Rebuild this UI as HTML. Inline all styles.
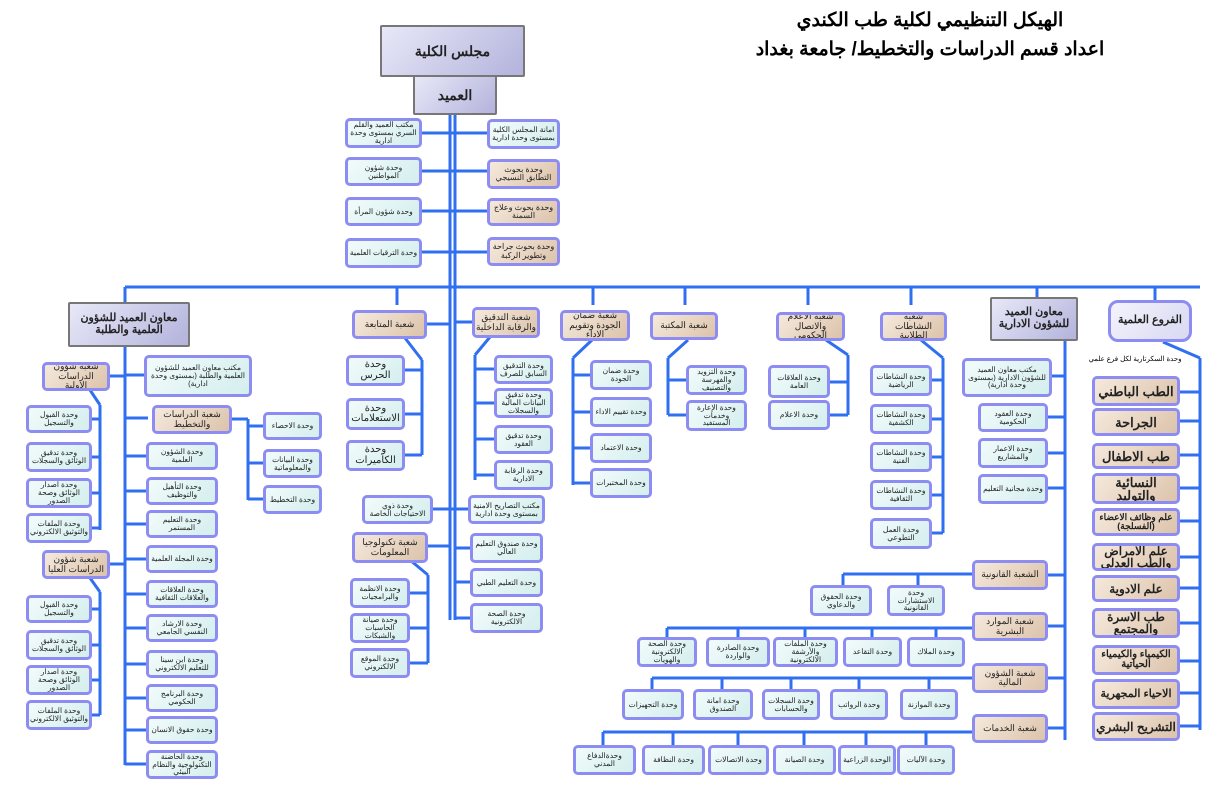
<!DOCTYPE html>
<html><head><meta charset="utf-8"><style>
body{margin:0;width:1210px;height:794px;background:#fff;position:relative;overflow:hidden;font-family:"Liberation Sans","Noto Sans CJK SC",sans-serif}
.b{position:absolute;box-sizing:border-box;border:3px solid #8c8cf2;border-radius:5px;display:flex;align-items:center;justify-content:center;text-align:center;direction:rtl;line-height:1.05;color:#222;overflow:hidden;font-size:8px;padding:1px}
.c{background:linear-gradient(135deg,#f2fbfb,#d4eeee);font-size:7.5px}
.t{background:linear-gradient(135deg,#f5e9dc,#dcc3ab);font-size:9px}
.h{background:linear-gradient(135deg,#e8e8f8,#b3b3dc);border:2px solid #777;border-radius:2px;font-weight:bold;font-size:11px}
.f{background:linear-gradient(135deg,#f4f4fc,#d8d8f2);border-radius:10px;font-weight:bold;font-size:11px}
.big{font-size:14px;font-weight:bold}
#tt{position:absolute;left:740px;top:6px;width:380px;text-align:center;direction:rtl;font-weight:bold;font-size:19px;line-height:29px}
svg{position:absolute;left:0;top:0}
</style></head><body>
<svg id="s" width="1210" height="794"></svg>
<div id="tt">الهيكل التنظيمي لكلية طب الكندي<br>اعداد قسم الدراسات والتخطيط/ جامعة بغداد</div>
<script>
var S=document.getElementById('s'),L='';
function l(a,b,c,d){L+='<line x1="'+a+'" y1="'+b+'" x2="'+c+'" y2="'+d+'" stroke="#2f6ff0" stroke-width="3"/>';}
function B(x,y,x2,y2,t,c,ex){var d=document.createElement('div');d.className='b '+c+(ex?' '+ex:'');d.style.left=x+'px';d.style.top=y+'px';d.style.width=(x2-x)+'px';d.style.height=(y2-y)+'px';d.innerHTML=t;document.body.appendChild(d);return d;}
l(450,115,450,620);l(455,115,455,620);
l(125,287,1200,287);
[125,397,593,685,808,911,1037,1155].forEach(function(x){l(x,287,x,305)});
[133,171,211,252].forEach(function(y){l(420,y,487,y)});
l(125,345,125,765);
[375,418,456,491,524,559,594,628,664,698,730,764].forEach(function(y){l(125,y,148,y)});
l(110,376,125,376);
l(90,390,100,405);l(100,405,100,530);[419,457,493,528].forEach(function(y){l(90,y,100,y)});
l(110,564,125,564);
l(90,578,100,592);l(100,592,100,715);[609,645,680,715].forEach(function(y){l(90,y,100,y)});
l(230,419,248,419);l(248,419,248,500);[426,463,499].forEach(function(y){l(248,y,263,y)});
l(427,324,450,324);l(405,338,422,360);l(422,360,422,455);[370,414,455].forEach(function(y){l(403,y,422,y)});
l(455,322,472,322);l(490,337,475,355);l(475,355,475,480);[369,403,439,475].forEach(function(y){l(475,y,494,y)});
l(433,509,468,509);l(428,546,450,546);[548,582,618].forEach(function(y){l(455,y,470,y)});
l(410,560,428,575);l(428,575,428,663);[593,628,663].forEach(function(y){l(410,y,428,y)});
l(592,340,573,358);l(573,358,573,485);[375,412,448,483].forEach(function(y){l(573,y,590,y)});
l(688,340,668,358);l(668,358,668,415);[380,415].forEach(function(y){l(668,y,686,y)});
l(826,340,848,355);l(848,355,848,415);[382,415].forEach(function(y){l(830,y,848,y)});
l(921,340,943,358);l(943,358,943,533);[380,419,457,495,533].forEach(function(y){l(932,y,943,y)});
l(1065,340,1065,740);[376,417,453,488,575,626,678,728].forEach(function(y){l(1048,y,1065,y)});
l(843,574,972,574);[843,918].forEach(function(x){l(x,574,x,585)});
l(667,628,972,628);[667,738,805,872,936].forEach(function(x){l(x,628,x,638)});
l(652,678,972,678);[652,722,791,859,929].forEach(function(x){l(x,678,x,690)});
l(603,732,972,732);[603,673,738,804,866,926].forEach(function(x){l(x,732,x,745)});
l(1163,342,1200,358);l(1200,358,1200,730);[392,421,455,488,521,557,588,623,661,693,726].forEach(function(y){l(1180,y,1200,y)});
S.innerHTML=L;
B(380,25,525,77,'مجلس الكلية','h','big');
B(413,75,497,115,'العميد','h','big');
B(345,118,422,148,'مكتب العميد والقلم السري بمستوى وحدة ادارية','c');
B(345,157,422,186,'وحدة شؤون المواطنين','c');
B(345,197,422,226,'وحدة شؤون المرأة','c');
B(345,238,422,268,'وحدة الترقيات العلمية','c');
B(487,119,560,149,'امانة المجلس الكلية بمستوى وحدة ادارية','c');
B(487,159,560,189,'وحدة بحوث التطابق النسيجي','t').style.fontSize='8px';
B(487,198,560,226,'وحدة بحوث وعلاج السمنة','t').style.fontSize='8px';
B(487,237,560,266,'وحدة بحوث جراحة وتطوير الركبة','t').style.fontSize='8px';
B(68,302,190,347,'معاون العميد للشؤون العلمية والطلبة','h');
B(352,310,427,339,'شعبة المتابعة','t');
B(472,307,540,338,'شعبة التدقيق والرقابة الداخلية','t');
B(560,310,630,341,'شعبة ضمان الجودة وتقويم الاداء','t');
B(650,312,718,340,'شعبة المكتبة','t');
B(776,312,845,341,'شعبة الاعلام والاتصال الحكومي','t');
B(880,312,947,341,'شعبة النشاطات الطلابية','t');
B(990,297,1078,341,'معاون العميد للشؤون الادارية','h');
B(1108,300,1192,342,'الفروع العلمية','f');
B(144,355,252,397,'مكتب معاون العميد للشؤون العلمية والطلبة (بمستوى وحدة ادارية)','c');
B(152,405,232,434,'شعبة الدراسات والتخطيط','t');
var lc=[[442,470,'وحدة الشؤون العلمية'],[477,505,'وحدة التأهيل والتوظيف'],[510,538,'وحدة التعليم المستمر'],[545,573,'وحدة المجلة العلمية'],[580,608,'وحدة العلاقات والعلاقات الثقافية'],[614,642,'وحدة الارشاد النفسي الجامعي'],[650,678,'وحدة ابن سينا للتعليم الالكتروني'],[684,712,'وحدة البرنامج الحكومي'],[716,744,'وحدة حقوق الانسان'],[750,779,'وحدة الحاضنة التكنولوجية والنظام البيئي']];
lc.forEach(function(a){B(146,a[0],218,a[1],a[2],'c')});
B(42,362,110,391,'شعبة شؤون الدراسات الاولية','t');
B(42,550,110,579,'شعبة شؤون الدراسات العليا','t');
[[405,433,'وحدة القبول والتسجيل'],[442,472,'وحدة تدقيق الوثائق والسجلات'],[478,508,'وحدة اصدار الوثائق وصحة الصدور'],[513,543,'وحدة الملفات والتوثيق الالكتروني'],[595,623,'وحدة القبول والتسجيل'],[630,660,'وحدة تدقيق الوثائق والسجلات'],[665,695,'وحدة اصدار الوثائق وصحة الصدور'],[700,730,'وحدة الملفات والتوثيق الالكتروني']].forEach(function(a){B(26,a[0],92,a[1],a[2],'c')});
[[412,440,'وحدة الاحصاء'],[449,478,'وحدة البيانات والمعلوماتية'],[485,514,'وحدة التخطيط']].forEach(function(a){B(263,a[0],322,a[1],a[2],'c')});
[[355,386,'وحدة الحرس'],[398,430,'وحدة الاستعلامات'],[440,471,'وحدة الكاميرات']].forEach(function(a){B(346,a[0],405,a[1],a[2],'c').style.fontSize='10px'});
[[355,384,'وحدة التدقيق السابق للصرف'],[388,418,'وحدة تدقيق البيانات المالية والسجلات'],[425,454,'وحدة تدقيق العقود'],[460,490,'وحدة الرقابة الادارية']].forEach(function(a){B(494,a[0],553,a[1],a[2],'c')});
B(468,495,545,524,'مكتب التصاريح الامنية بمستوى وحدة ادارية','c');
B(362,495,433,524,'وحدة ذوي الاحتياجات الخاصة','c');
B(352,532,428,563,'شعبة تكنولوجيا المعلومات','t');
[[533,563,'وحدة صندوق التعليم العالي'],[568,597,'وحدة التعليم الطبي'],[603,633,'وحدة الصحة الالكترونية']].forEach(function(a){B(470,a[0],543,a[1],a[2],'c')});
[[578,608,'وحدة الانظمة والبرامجيات'],[613,643,'وحدة صيانة الحاسبات والشبكات'],[648,678,'وحدة الموقع الالكتروني']].forEach(function(a){B(350,a[0],410,a[1],a[2],'c')});
[[360,390,'وحدة ضمان الجودة'],[397,427,'وحدة تقييم الاداء'],[433,463,'وحدة الاعتماد'],[468,498,'وحدة المختبرات']].forEach(function(a){B(590,a[0],652,a[1],a[2],'c')});
[[365,395,'وحدة التزويد والفهرسة والتصنيف'],[400,431,'وحدة الإعارة وخدمات المستفيد']].forEach(function(a){B(686,a[0],747,a[1],a[2],'c')});
[[365,398,'وحدة العلاقات العامة'],[400,430,'وحدة الاعلام']].forEach(function(a){B(768,a[0],830,a[1],a[2],'c')});
[[365,396,'وحدة النشاطات الرياضية'],[404,434,'وحدة النشاطات الكشفية'],[442,472,'وحدة النشاطات الفنية'],[480,510,'وحدة النشاطات الثقافية'],[518,549,'وحدة العمل التطوعي']].forEach(function(a){B(870,a[0],932,a[1],a[2],'c')});
B(962,358,1052,397,'مكتب معاون العميد للشؤون الادارية (بمستوى وحدة ادارية)','c');
B(978,403,1048,432,'وحدة العقود الحكومية','c');
B(978,438,1048,468,'وحدة الاعمار والمشاريع','c');
B(978,474,1048,504,'وحدة مجانية التعليم','c');
B(972,560,1048,590,'الشعبة القانونية','t');
B(972,612,1048,641,'شعبة الموارد البشرية','t');
B(972,663,1048,693,'شعبة الشؤون المالية','t');
B(972,714,1048,743,'شعبة الخدمات','t');
B(810,585,872,616,'وحدة الحقوق والدعاوي','c');B(887,585,945,616,'وحدة الاستشارات القانونية','c');
[[637,697,'وحدة الصحة الالكترونية والهويات'],[706,770,'وحدة الصادرة والواردة'],[773,838,'وحدة الملفات والأرشفة الالكترونية'],[843,902,'وحدة التقاعد'],[907,965,'وحدة الملاك']].forEach(function(a){B(a[0],637,a[1],667,a[2],'c')});
[[622,684,'وحدة التجهيزات'],[693,753,'وحدة امانة الصندوق'],[762,820,'وحدة السجلات والحسابات'],[830,888,'وحدة الرواتب'],[900,958,'وحدة الموازنة']].forEach(function(a){B(a[0],689,a[1],720,a[2],'c')});
[[573,636,'وحدةالدفاع المدني'],[642,705,'وحدة النظافة'],[708,769,'وحدة الاتصالات'],[773,836,'وحدة الصيانة'],[838,896,'الوحدة الزراعية'],[897,955,'وحدة الآليات']].forEach(function(a){B(a[0],745,a[1],775,a[2],'c')});
var d=document.createElement('div');d.style.cssText='position:absolute;left:1085px;top:355px;width:100px;font-size:7px;direction:rtl;text-align:center';d.textContent='وحدة السكرتارية لكل فرع علمي';document.body.appendChild(d);
[[376,406,'الطب الباطني',13],[408,436,'الجراحة',13],[443,469,'طب الاطفال',13],[473,504,'النسائية والتوليد',13],[508,536,'علم وظائف الاعضاء (الفسلجة)',9],[543,571,'علم الامراض والطب العدلي',12],[575,602,'علم الادوية',12],[608,638,'طب الاسرة والمجتمع',12],[645,675,'الكيمياء والكيمياء الحياتية',10],[679,709,'الاحياء المجهرية',11],[712,741,'التشريح البشري',12]].forEach(function(a){var e=B(1092,a[0],1180,a[1],a[2],'t');e.style.fontSize=a[3]+'px';e.style.fontWeight='bold';e.style.lineHeight='1'});
</script>
</body></html>
